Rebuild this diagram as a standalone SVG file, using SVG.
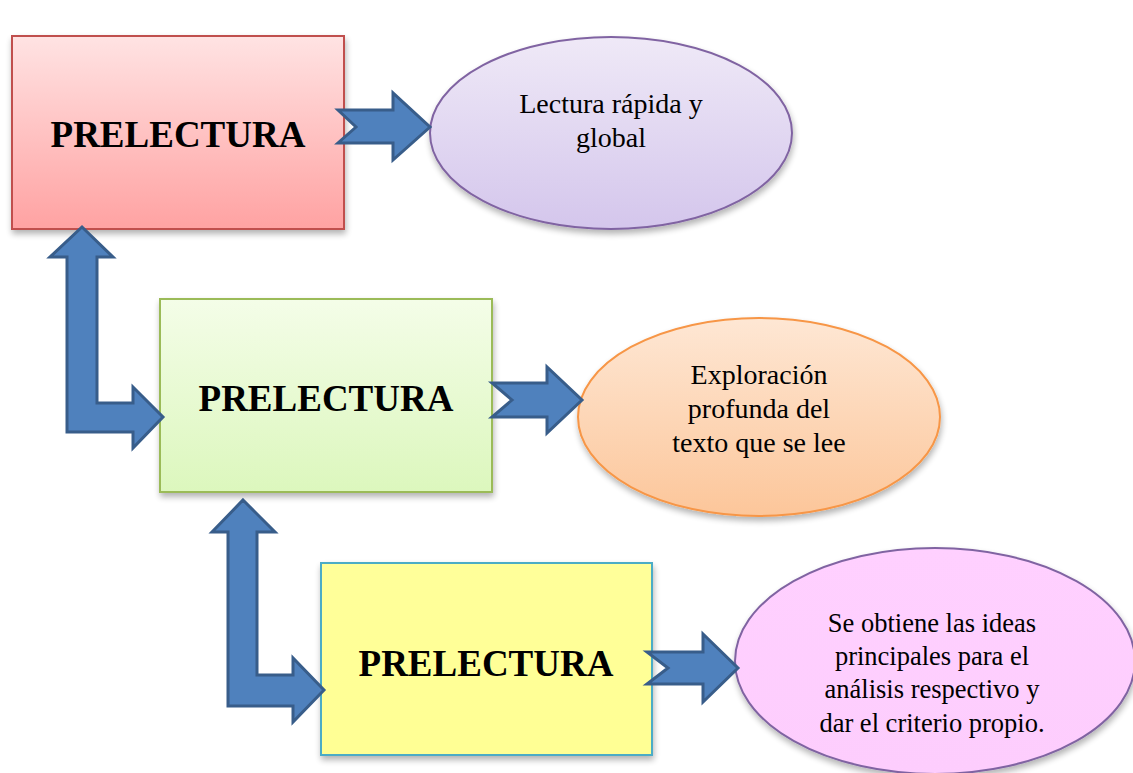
<svg xmlns="http://www.w3.org/2000/svg" width="1133" height="773" viewBox="0 0 1133 773">
<defs>
<linearGradient id="gRed" x1="0" y1="0" x2="0" y2="1"><stop offset="0" stop-color="#ffe3e3"/><stop offset="1" stop-color="#ffa2a2"/></linearGradient>
<linearGradient id="gGreen" x1="0" y1="0" x2="0" y2="1"><stop offset="0" stop-color="#f4fde8"/><stop offset="1" stop-color="#dcf7bd"/></linearGradient>
<linearGradient id="gYellow" x1="0" y1="0" x2="0" y2="1"><stop offset="0" stop-color="#ffff9a"/><stop offset="1" stop-color="#ffff94"/></linearGradient>
<linearGradient id="gPurple" x1="0" y1="0" x2="0" y2="1"><stop offset="0" stop-color="#efe9f7"/><stop offset="1" stop-color="#d4c6ec"/></linearGradient>
<linearGradient id="gOrange" x1="0" y1="0" x2="0" y2="1"><stop offset="0" stop-color="#fee7d4"/><stop offset="1" stop-color="#fcc69a"/></linearGradient>
<linearGradient id="gPink" x1="0" y1="0" x2="0" y2="1"><stop offset="0" stop-color="#ffd0ff"/><stop offset="1" stop-color="#fdcdfd"/></linearGradient>
<filter id="sh" x="-10%" y="-10%" width="125%" height="130%">
<feGaussianBlur in="SourceAlpha" stdDeviation="3"/>
<feOffset dx="1" dy="4" result="b"/>
<feComponentTransfer><feFuncA type="linear" slope="0.3"/></feComponentTransfer>
<feMerge><feMergeNode/><feMergeNode in="SourceGraphic"/></feMerge>
</filter>
<style>
.title{font-family:"Liberation Serif","Times New Roman",serif;font-weight:bold;font-size:37px;fill:#000;text-anchor:middle}
.txt{font-family:"Liberation Serif","Times New Roman",serif;font-size:28px;fill:#000;text-anchor:middle}
.txt2{font-family:"Liberation Serif","Times New Roman",serif;font-size:26.5px;fill:#000;text-anchor:middle}
.arrow{fill:#4f81bd;stroke:#385d8a;stroke-width:3;stroke-linejoin:miter}
</style>
</defs>
<rect width="1133" height="773" fill="#ffffff"/>

<g id="node-prelectura-1">
<rect x="12" y="36" width="332" height="193" fill="url(#gRed)" stroke="#c0504d" stroke-width="2" filter="url(#sh)"/>
<text class="title" x="178" y="147">PRELECTURA</text>
</g>
<g id="node-lectura-rapida">
<ellipse cx="611" cy="133" rx="181" ry="96" fill="url(#gPurple)" stroke="#8064a2" stroke-width="2" filter="url(#sh)"/>
<text class="txt" x="611" y="113">Lectura rápida y</text>
<text class="txt" x="611" y="147">global</text>
</g>
<g id="node-prelectura-2">
<rect x="160" y="299" width="332" height="193" fill="url(#gGreen)" stroke="#9bbb59" stroke-width="2" filter="url(#sh)"/>
<text class="title" x="326" y="411">PRELECTURA</text>
</g>
<g id="node-exploracion">
<ellipse cx="759" cy="417" rx="181" ry="99" fill="url(#gOrange)" stroke="#f79646" stroke-width="2" filter="url(#sh)"/>
<text class="txt" x="759" y="384">Exploración</text>
<text class="txt" x="759" y="418">profunda del</text>
<text class="txt" x="759" y="452">texto que se lee</text>
</g>
<g id="node-prelectura-3">
<rect x="321" y="563" width="331" height="192" fill="url(#gYellow)" stroke="#4bacc6" stroke-width="2" filter="url(#sh)"/>
<text class="title" x="486" y="676">PRELECTURA</text>
</g>
<g id="node-ideas">
<ellipse cx="935" cy="661" rx="200" ry="113" fill="url(#gPink)" stroke="#8064a2" stroke-width="2" filter="url(#sh)"/>
<text class="txt2" x="932" y="632">Se obtiene las ideas</text>
<text class="txt2" x="932" y="665">principales para el</text>
<text class="txt2" x="932" y="698">análisis respectivo y</text>
<text class="txt2" x="932" y="732">dar el criterio propio.</text>
</g>

<g id="connectors">
<path class="arrow" d="M338,110 L393,110 L393,93 L430,127 L393,160 L393,143 L338,143 L356,127 Z"/>
<path class="arrow" d="M492,383 L547,383 L547,367 L582,400 L547,433 L547,417 L492,417 L512,400 Z"/>
<path class="arrow" d="M647,652 L703,652 L703,634 L738,668 L703,702 L703,684 L647,684 L668,668 Z"/>
<path class="arrow" d="M82,227 L113,257 L97,257 L97,403 L133,403 L133,387 L163,417 L133,448 L133,432 L67,432 L67,257 L50,257 Z"/>
<path class="arrow" d="M243,500 L275,532 L257,532 L257,675 L293,675 L293,658 L324,690 L293,722 L293,706 L228,706 L228,532 L212,532 Z"/>
</g>
</svg>
